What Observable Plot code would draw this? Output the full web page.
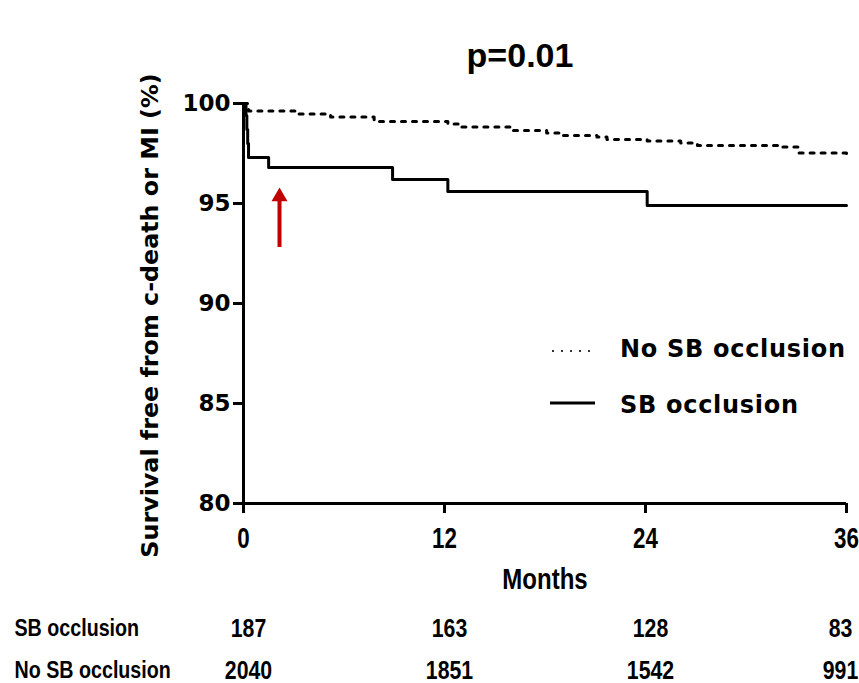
<!DOCTYPE html>
<html><head><meta charset="utf-8">
<script src="https://cdn.jsdelivr.net/npm/d3@7"></script>
<script src="https://cdn.jsdelivr.net/npm/@observablehq/plot@0.6"></script>
<style>
body{margin:0;background:#fff;}
#wrap{position:relative;width:859px;height:683px;overflow:hidden;background:#fff;}
#title{position:absolute;left:420px;width:200px;top:38px;text-align:center;font:bold 34px "Liberation Sans",Arial,sans-serif;line-height:1;color:#000;}
#main{position:absolute;left:0;top:0;}
#risk{position:absolute;left:0;top:600px;}
.lg{position:absolute;left:620px;font:bold 24px "DejaVu Sans",sans-serif;letter-spacing:0.7px;line-height:1;color:#000;white-space:nowrap;}
#lgsvg{position:absolute;left:540px;top:340px;}
</style></head>
<body><div id="wrap">
<div id="main"></div>
<div id="risk"></div>
<div id="title"></div>
<svg id="lgsvg" width="70" height="80"></svg>
<div class="lg" id="lg1" style="top:337px"></div>
<div class="lg" id="lg2" style="top:393px"></div>
</div>
<script>
const titleText = "p=0.01";
const yLabel = "Survival free from c-death or MI (%)";
const xLabel = "Months";
const seriesNames = ["No SB occlusion", "SB occlusion"];
const xTicks = [0, 12, 24, 36];
const yTicks = [80, 85, 90, 95, 100];

// SB occlusion (solid)
const sbMonths = [0, 0.15, 0.2, 0.25, 0.3, 1.5, 8.9, 12.2, 24.1, 36];
const sbSurv   = [100, 99.4, 98.7, 98.0, 97.3, 96.8, 96.2, 95.6, 94.9, 94.9];
// No SB occlusion (dotted)
const noSbMonths = [0, 0.3, 3.2, 5.2, 7.8, 12.2, 13.0, 16.1, 18.1, 19.1, 21.1, 21.7, 24.1, 26.1, 27.1, 32.1, 33.1, 36];
const noSbSurv   = [100, 99.62, 99.48, 99.32, 99.1, 98.98, 98.82, 98.65, 98.52, 98.4, 98.32, 98.2, 98.12, 98.03, 97.9, 97.82, 97.53, 97.48];

// red arrow annotation
const arrowMonth = [2.15];
const arrowFrom = [92.8];
const arrowHead = [95.34];

// numbers at risk
const riskRows = ["SB occlusion", "No SB occlusion"];
const riskMonths = [0, 12, 24, 36];
const riskSB = [187, 163, 128, 83];
const riskNoSB = [2040, 1851, 1542, 991];

const sans = "'Liberation Sans',Arial,sans-serif";
const dejavu = "'DejaVu Sans',sans-serif";

const sb = sbMonths.map((m, i) => ({month: m, surv: sbSurv[i]}));
const nosb = noSbMonths.map((m, i) => ({month: m, surv: noSbSurv[i]}));
const arrow = arrowMonth.map((m, i) => ({month: m, from: arrowFrom[i], head: arrowHead[i]}));

const chart = Plot.plot({
  width: 859, height: 600,
  marginLeft: 243, marginRight: 13, marginTop: 103, marginBottom: 97,
  x: {domain: [0, 36]},
  y: {domain: [80, 100]},
  style: {background: "white", color: "black", overflow: "visible"},
  marks: [
    Plot.axisY({ticks: yTicks, tickSize: 10, tickPadding: 3, strokeWidth: 3, fontSize: 23, fontWeight: "bold", fontFamily: dejavu, label: null}),
    Plot.axisX({ticks: xTicks, tickSize: 10, tickPadding: 14, strokeWidth: 3, fontSize: 29, fontWeight: "bold", fontFamily: sans, label: null}),
    Plot.ruleX([0], {strokeWidth: 3}),
    Plot.ruleY([80], {strokeWidth: 3}),
    Plot.line(nosb, {x: "month", y: "surv", curve: "step-after", strokeWidth: 3, strokeDasharray: "4,7"}),
    Plot.line(sb, {x: "month", y: "surv", curve: "step-after", strokeWidth: 3}),
    Plot.ruleX(arrow, {x: "month", y1: "from", y2: "head", stroke: "#c00000", strokeWidth: 4}),
    Plot.dot(arrow, {x: "month", y: "head", symbol: "triangle", r: 5.94, fill: "#c00000", stroke: "none"}),
    Plot.text([yLabel], {frameAnchor: "left", rotate: -90, dx: -93, dy: 12, textAnchor: "middle", lineAnchor: "middle", fontSize: 23.8, fontWeight: "bold", fontFamily: dejavu}),
    Plot.text([xLabel], {frameAnchor: "bottom", dy: 76, textAnchor: "middle", lineAnchor: "middle", fontSize: 30, fontWeight: "bold", fontFamily: sans})
  ]
});
document.getElementById("main").appendChild(chart);

const riskData = riskMonths.flatMap((m, i) => [
  {month: m, row: riskRows[0], n: riskSB[i]},
  {month: m, row: riskRows[1], n: riskNoSB[i]}
]);
const lastMonth = riskMonths[riskMonths.length - 1];
const numStyle = {x: "month", y: "row", text: d => String(d.n), textAnchor: "middle", lineAnchor: "middle", fontSize: 25, fontWeight: "bold", fontFamily: sans};
const risk = Plot.plot({
  width: 859, height: 83,
  marginLeft: 243, marginRight: 13, marginTop: 0, marginBottom: 0,
  x: {domain: [0, 36], axis: null},
  y: {type: "point", domain: riskRows, range: [28, 70], padding: 0, axis: null},
  style: {background: "white", color: "black", overflow: "visible"},
  marks: [
    Plot.text(riskData.filter(d => d.month !== lastMonth), {...numStyle, dx: 5}),
    Plot.text(riskData.filter(d => d.month === lastMonth), {...numStyle, dx: -6}),
    Plot.text(riskRows, {y: d => d, text: d => d, frameAnchor: "left", textAnchor: "start", lineAnchor: "middle", dx: -229, fontSize: 24, fontWeight: "bold", fontFamily: sans})
  ]
});
document.getElementById("risk").appendChild(risk);

// condense the narrow-style texts (no narrow font installed): horizontal scale about the anchor
function condense(nodes, f) {
  nodes.forEach(t => {
    const tr = t.getAttribute("transform");
    if (tr && /translate/.test(tr)) {
      t.setAttribute("transform", tr + ` scale(${f},1)`);
    } else {
      const x = parseFloat(t.getAttribute("x") || "0");
      t.setAttribute("transform", (tr || "") + ` translate(${x},0) scale(${f},1) translate(${-x},0)`);
    }
  });
}
const mainTexts = Array.from(document.querySelectorAll("#main svg text"));
const xTickStr = xTicks.map(String);
condense(mainTexts.filter(t => xTickStr.includes(t.textContent) && t.closest('g[aria-label="x-axis tick label"]')), 0.77);
condense(mainTexts.filter(t => t.textContent === xLabel), 0.8);
const riskTexts = Array.from(document.querySelectorAll("#risk svg text"));
condense(riskTexts.filter(t => riskRows.includes(t.textContent)), 0.82);
condense(riskTexts.filter(t => !riskRows.includes(t.textContent)), 0.85);

document.getElementById("title").textContent = titleText;
document.getElementById("lg1").textContent = seriesNames[0];
document.getElementById("lg2").textContent = seriesNames[1];
const lg = d3.select("#lgsvg");
lg.append("line").attr("x1", 12).attr("x2", 52).attr("y1", 11).attr("y2", 11)
  .attr("stroke", "#333").attr("stroke-width", 2).attr("stroke-dasharray", "2,7");
lg.append("line").attr("x1", 10).attr("x2", 55).attr("y1", 63).attr("y2", 63)
  .attr("stroke", "#000").attr("stroke-width", 3);
</script>
</body></html>
